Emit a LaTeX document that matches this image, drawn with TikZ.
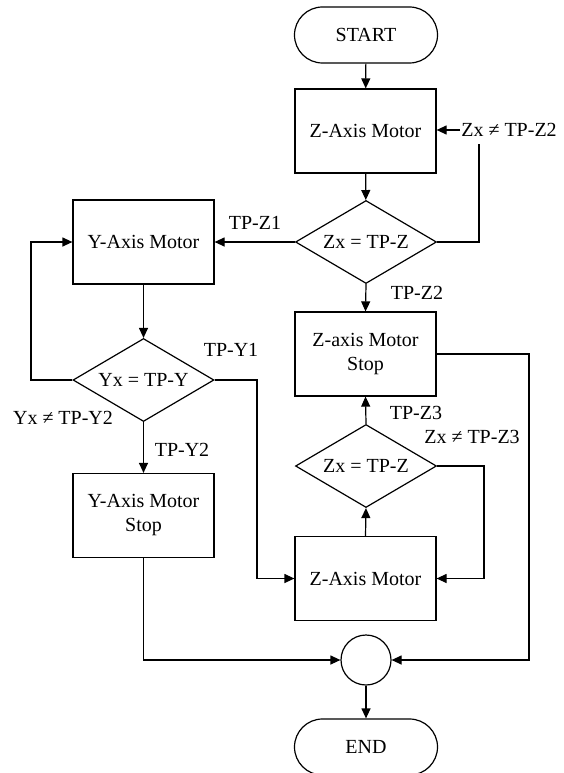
\documentclass[tikz,border=0pt]{standalone}
\usepackage{fontspec}
\setmainfont{Liberation Serif}
\usetikzlibrary{shapes.geometric,arrows.meta}
\begin{document}
\begin{tikzpicture}[x=1pt,y=-1pt,
 every node/.style={font=\fontsize{20}{24}\selectfont},
 box/.style={draw, line width=1.2pt, minimum width=141pt, minimum height=84pt, align=center, inner sep=0pt},
 term/.style={draw, line width=1.2pt, rounded corners=28pt, minimum width=143pt, minimum height=56pt, inner sep=0pt},
 dec/.style={draw, diamond, aspect=1.7, line width=1.2pt, minimum width=141pt, minimum height=83pt, inner sep=0pt},
 junc/.style={draw, circle, line width=1.2pt, minimum size=50pt, inner sep=0pt},
 lbl/.style={inner sep=1pt},
 conn/.style={line width=1.2pt},
 arr/.style={conn, -{Triangle[length=10pt,width=9pt]}}
]
\useasboundingbox (0,0) rectangle (564,773);
% nodes
\node[term] (start) at (366,35) {START};
\node[box] (z1) at (365.5,131) {Z-Axis Motor};
\node[dec] (d1) at (366,242) {Zx = TP-Z};
\node[box] (y1) at (143.5,242) {Y-Axis Motor};
\node[dec] (d2) at (143.5,380) {Yx = TP-Y};
\node[box] (ystop) at (143.5,515.5) {Y-Axis Motor\\Stop};
\node[box] (zstop) at (365.5,354) {Z-axis Motor\\Stop};
\node[dec] (d3) at (366,466) {Zx = TP-Z};
\node[box] (z2) at (365.5,578.5) {Z-Axis Motor};
\node[junc] (j) at (366,660) {};
\node[term] (end) at (366,747) {END};
% labels
\node[lbl] (lz2a) at (509,130) {Zx ≠ TP-Z2};
\node[lbl] (ltpz1) at (255,223) {TP-Z1};
\node[lbl] (ltpz2) at (417,293) {TP-Z2};
\node[lbl] (ltpy1) at (231,350) {TP-Y1};
\node[lbl] (lyne) at (63,418) {Yx ≠ TP-Y2};
\node[lbl] (ltpy2) at (182,450) {TP-Y2};
\node[lbl] (ltpz3) at (416,413) {TP-Z3};
\node[lbl] (lzne3) at (472,437) {Zx ≠ TP-Z3};
% helper coordinates
\coordinate (c1) at (479,144);
\coordinate (c2) at (31,380);
\coordinate (c3) at (257,380);
\coordinate (c4) at (484,466);
\coordinate (c5) at (529,354);
% connectors
\draw[arr] (start) -- (z1);
\draw[arr] (z1) -- (d1);
\draw[conn] (d1.east) -| (c1);
\draw[arr] (lz2a.west) -- (z1.east |- lz2a.west);
\draw[arr] (d1.west) -- (y1.east);
\draw[arr] (d1.south) -- (zstop.north);
\draw[arr] (y1) -- (d2);
\draw[arr] (d2.west) -- (c2) |- (y1.west);
\draw[arr] (d2.east) -- (c3) |- (z2.west);
\draw[arr] (d2.south) -- (ystop.north);
\draw[arr] (ystop.south) |- (j.west);
\draw[arr] (z2.north) -- (d3.south);
\draw[arr] (d3.north) -- (zstop.south);
\draw[arr] (d3.east) -- (c4) |- (z2.east);
\draw[arr] (zstop.east) -- (c5) |- (j.east);
\draw[arr] (j) -- (end);
\end{tikzpicture}
\end{document}
